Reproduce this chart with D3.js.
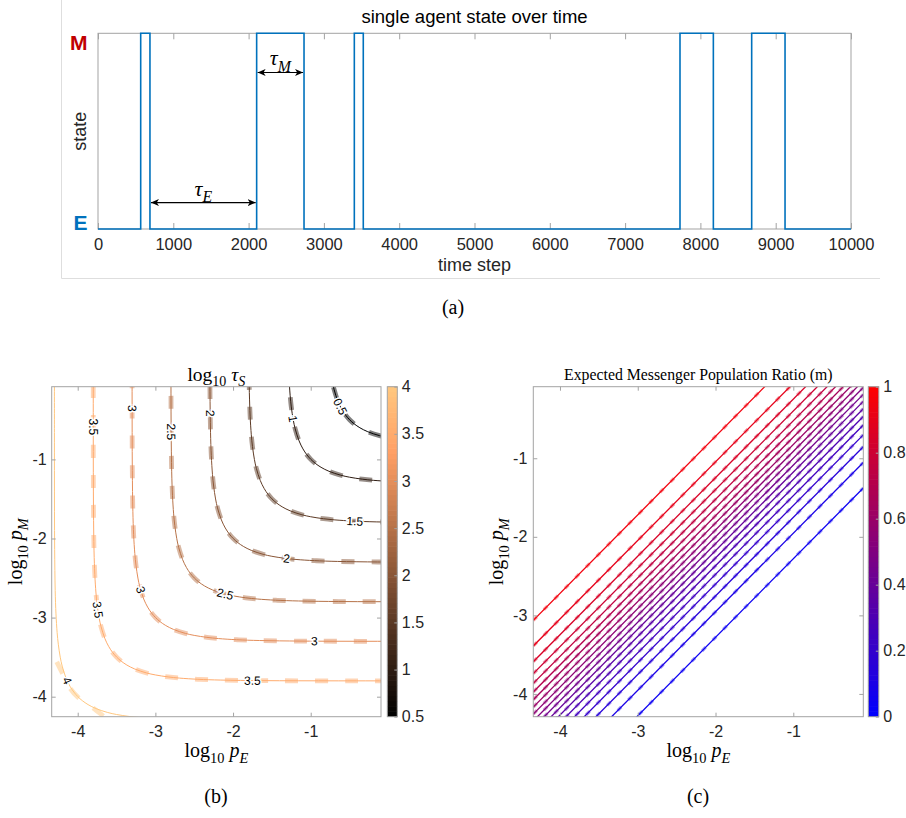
<!DOCTYPE html>
<html><head><meta charset="utf-8">
<script src="https://cdn.jsdelivr.net/npm/d3@7"></script>
<style>
body{margin:0;background:#fff}
svg{display:block}
</style></head><body>
<svg id="fig" width="906" height="818"></svg>
<script>
// ---------- (a) single agent trajectory ----------
const stateTimes  = [0, 567, 690, 2107, 2736, 3404, 3523, 7729, 8172, 8681, 9124, 10000];
const stateValues = [0, 1, 0, 1, 0, 1, 0, 1, 0, 1, 0, 0];   // 0 = E, 1 = M
const timeTicks   = [0, 1000, 2000, 3000, 4000, 5000, 6000, 7000, 8000, 9000, 10000];
const stateNames  = ["E", "M"];
const tauEInterval = [690, 2107];
const tauMInterval = [2107, 2736];
const tauEArrowLevel = 0.135;
const tauMArrowLevel = 0.80;

// ---------- (b) contours of log10 tau_S ----------
const tauLevels     = [0.5, 1, 1.5, 2, 2.5, 3, 3.5, 4];
const tauAsymptotes = [-0.80, -1.30, -1.80, -2.30, -2.80, -3.30, -3.80, -4.30];
// shape of one contour: offsets from its asymptote (along log pE, along log pM)
const profileD = [0.00001, 0.0001, 0.0003, 0.001, 0.003, 0.01, 0.02, 0.035, 0.05, 0.075, 0.1, 0.15, 0.2, 0.25, 0.301,
                  0.3589, 0.4329, 0.5345, 0.6868, 0.7997, 0.9636, 1.1111, 1.3467, 1.643, 2.162, 2.638, 3.161, 3.638, 4.5];
const profileG = [4.5, 3.638, 3.161, 2.638, 2.162, 1.643, 1.3467, 1.1111, 0.9636, 0.7997, 0.6868, 0.5345, 0.4329, 0.3589, 0.301,
                  0.25, 0.2, 0.15, 0.1, 0.075, 0.05, 0.035, 0.02, 0.01, 0.003, 0.001, 0.0003, 0.0001, 0.00001];
// simulated level-4 contour (the others coincide with the analytic curves)
const simLevel4 = [[-4.27, -3.56], [-4.185, -3.725], [-4.10, -3.89], [-4.0, -4.005], [-3.80, -4.144], [-3.65, -4.26]];
const tauLabelSpots = [
  [0.5, -0.623, -0.335], [1, -1.237, -0.491], [1.5, -0.430, -1.789],
  [2, -2.31, -0.419], [2, -1.309, -2.26],
  [2.5, -2.812, -0.651], [2.5, -2.104, -2.715],
  [3, -3.305, -0.356], [3, -3.198, -2.652], [3, -0.954, -3.305],
  [3.5, -3.79, -0.588], [3.5, -3.755, -2.905], [3.5, -1.747, -3.81],
  [4, -4.164, -3.81]
];
const tauTicks = [0.5, 1, 1.5, 2, 2.5, 3, 3.5, 4];
const logTicks = [-4, -3, -2, -1];

// ---------- (c) expected messenger population ratio ----------
const ratioLevels  = [0.05, 0.10, 0.15, 0.20, 0.25, 0.30, 0.35, 0.40, 0.45, 0.50,
                      0.55, 0.60, 0.65, 0.70, 0.75, 0.80, 0.85, 0.90, 0.95];
const ratioOffsets = [-1.279, -0.954, -0.753, -0.602, -0.477, -0.368, -0.269, -0.176, -0.087, 0,
                      0.087, 0.176, 0.269, 0.368, 0.477, 0.602, 0.753, 0.954, 1.279];
const ratioTicks = [0, 0.2, 0.4, 0.6, 0.8, 1];

// ---------- drawing ----------
const svg = d3.select("#fig");
const sans = "'Liberation Sans', Arial, Helvetica, sans-serif";
const serif = "'Liberation Serif', 'Times New Roman', serif";
const ink = "#262626";
const boxCol = "#a3a3a3";
const copper = t => d3.rgb(255 * Math.min(1, 1.25 * t), 255 * 0.7812 * t, 255 * 0.4975 * t);
const redBlue = t => d3.rgb(255 * t, 0, 255 * (1 - t));

const defs = svg.append("defs");
defs.append("marker").attr("id", "arrowHead")
  .attr("markerUnits", "userSpaceOnUse").attr("markerWidth", 9).attr("markerHeight", 7)
  .attr("refX", 8).attr("refY", 3.5).attr("orient", "auto-start-reverse")
  .append("path").attr("d", "M0,0 L8,3.5 L0,7 L2.2,3.5 Z").attr("fill", "#000");

function styleAxis(sel, size) {
  sel.attr("font-family", sans).attr("font-size", size);
  sel.select(".domain").remove();
  sel.selectAll(".tick line").attr("stroke", boxCol);
  sel.selectAll(".tick text").attr("fill", ink);
}

function mathText(g, x, y, parts, size, rotate) {
  const t = g.append("text").attr("x", x).attr("y", y).attr("text-anchor", "middle")
    .attr("font-family", serif).attr("fill", "#000").attr("font-size", size);
  if (rotate) t.attr("transform", `rotate(${rotate},${x},${y})`);
  let shifted = 0;
  parts.forEach(p => {
    const ts = t.append("tspan").text(p.t);
    const target = p.sub ? size * 0.28 : 0;
    if (target !== shifted) { ts.attr("dy", target - shifted); shifted = target; }
    if (p.sub) ts.attr("font-size", size * 0.72);
    if (p.it) ts.attr("font-style", "italic");
  });
  return t;
}

// ===== panel (a) =====
const A = {l: 98, r: 851, t: 33.3, b: 229};
const xA = d3.scaleLinear().domain([0, 10000]).range([A.l, A.r]);
const yA = d3.scaleLinear().domain([0, 1]).range([A.b, A.t]);
const gA = svg.append("g");
gA.append("path").attr("d", "M61.5,0V278.5H880").attr("fill", "none").attr("stroke", "#dedede");
gA.append("rect").attr("x", A.l).attr("y", A.t).attr("width", A.r - A.l).attr("height", A.b - A.t)
  .attr("fill", "none").attr("stroke", boxCol);
gA.append("g").attr("transform", `translate(0,${A.b})`)
  .call(d3.axisBottom(xA).tickValues(timeTicks).tickSize(-6).tickPadding(9.5).tickFormat(d => String(d)))
  .call(s => styleAxis(s, 16.5));
gA.append("g").attr("transform", `translate(0,${A.t})`)
  .call(d3.axisTop(xA).tickValues(timeTicks).tickSize(-6).tickFormat(""))
  .call(s => styleAxis(s, 16.5));

const stateLine = d3.line().curve(d3.curveStepAfter).x(d => xA(d[0])).y(d => yA(d[1]));
gA.append("path").datum(stateTimes.map((t, i) => [t, stateValues[i]]))
  .attr("d", stateLine).attr("fill", "none").attr("stroke", "#0072BD").attr("stroke-width", 1.6);

gA.append("text").attr("x", (A.l + A.r) / 2).attr("y", 22.5).attr("text-anchor", "middle")
  .attr("font-family", sans).attr("font-size", 18.5).attr("fill", "#000").text("single agent state over time");
gA.append("text").attr("x", (A.l + A.r) / 2).attr("y", 271).attr("text-anchor", "middle")
  .attr("font-family", sans).attr("font-size", 18).attr("fill", ink).text("time step");
gA.append("text").attr("transform", `translate(86,${(A.t + A.b) / 2}) rotate(-90)`).attr("text-anchor", "middle")
  .attr("font-family", sans).attr("font-size", 18).attr("fill", ink).text("state");
gA.append("text").attr("x", 87.5).attr("y", yA(1) + 16.5).attr("text-anchor", "end")
  .attr("font-family", sans).attr("font-weight", "bold").attr("font-size", 21).attr("fill", "#c00000").text(stateNames[1]);
gA.append("text").attr("x", 87.5).attr("y", yA(0) + 1).attr("text-anchor", "end")
  .attr("font-family", sans).attr("font-weight", "bold").attr("font-size", 21).attr("fill", "#0072BD").text(stateNames[0]);

function dwellArrow(interval, level, sub) {
  const y = yA(level);
  gA.append("line").attr("x1", xA(interval[0]) + 1).attr("x2", xA(interval[1]) - 1)
    .attr("y1", y).attr("y2", y).attr("stroke", "#000").attr("stroke-width", 1.1)
    .attr("marker-start", "url(#arrowHead)").attr("marker-end", "url(#arrowHead)");
  mathText(gA, xA((interval[0] + interval[1]) / 2), y - 7, [{t: "τ", it: true}, {t: sub, it: true, sub: true}], 22);
}
dwellArrow(tauEInterval, tauEArrowLevel, "E");
dwellArrow(tauMInterval, tauMArrowLevel, "M");

svg.append("text").attr("x", 453).attr("y", 314).attr("text-anchor", "middle")
  .attr("font-family", serif).attr("font-size", 20).attr("fill", "#000").text("(a)");

// ===== shared helpers for (b) and (c) =====
function axesFrame(g, box, xs, ys, yPad) {
  g.append("rect").attr("x", box.l).attr("y", box.t).attr("width", box.r - box.l).attr("height", box.b - box.t)
    .attr("fill", "none").attr("stroke", boxCol);
  g.append("g").attr("transform", `translate(0,${box.b})`)
    .call(d3.axisBottom(xs).tickValues(logTicks).tickSize(-4).tickPadding(8.6).tickFormat(d => String(d)))
    .call(s => styleAxis(s, 16));
  g.append("g").attr("transform", `translate(0,${box.t})`)
    .call(d3.axisTop(xs).tickValues(logTicks).tickSize(-4).tickFormat(""))
    .call(s => styleAxis(s, 16));
  g.append("g").attr("transform", `translate(${box.l},0)`)
    .call(d3.axisLeft(ys).tickValues(logTicks).tickSize(-4).tickPadding(yPad).tickFormat(d => String(d)))
    .call(s => styleAxis(s, 16));
  g.append("g").attr("transform", `translate(${box.r},0)`)
    .call(d3.axisRight(ys).tickValues(logTicks).tickSize(-4).tickFormat(""))
    .call(s => styleAxis(s, 16));
}

function colorbar(g, x0, x1, box, domain, ticks, cmap, fmt) {
  const cs = d3.scaleLinear().domain(domain).range([box.b, box.t]);
  const n = 64;
  const steps = d3.range(n);
  const band = d3.scaleBand().domain(steps).range([box.b, box.t]);
  g.selectAll(null).data(steps).enter().append("rect")
    .attr("x", x0).attr("width", x1 - x0)
    .attr("y", i => band(i) - 0.3).attr("height", band.bandwidth() + 0.6)
    .attr("fill", i => cmap((i + 0.5) / n));
  g.append("rect").attr("x", x0).attr("y", box.t).attr("width", x1 - x0).attr("height", box.b - box.t)
    .attr("fill", "none").attr("stroke", boxCol);
  g.append("g").attr("transform", `translate(${x1},0)`)
    .call(d3.axisRight(cs).tickValues(ticks).tickSize(-3).tickPadding(4.5).tickFormat(fmt))
    .call(s => styleAxis(s, 16));
}

function axisTitles(g, box, yLabelX) {
  const cx = (box.l + box.r) / 2, cy = (box.t + box.b) / 2;
  mathText(g, cx, 757, [{t: "log"}, {t: "10", sub: true}, {t: " "}, {t: "p", it: true}, {t: "E", it: true, sub: true}], 20);
  mathText(g, yLabelX, cy, [{t: "log"}, {t: "10", sub: true}, {t: " "}, {t: "p", it: true}, {t: "M", it: true, sub: true}], 20, -90);
}

// ===== panel (b) =====
const B = {l: 51.7, r: 381, t: 386.7, b: 716.7};
const xB = d3.scaleLinear().domain([-4.335, -0.095]).range([B.l, B.r]);
const yB = d3.scaleLinear().domain([-4.253, -0.081]).range([B.b, B.t]);
const gB = svg.append("g");
defs.append("clipPath").attr("id", "clipB").append("rect")
  .attr("x", B.l).attr("y", B.t).attr("width", B.r - B.l).attr("height", B.b - B.t);

const tauColor = L => copper((L - tauTicks[0]) / (tauTicks[tauTicks.length - 1] - tauTicks[0]));
const contourLine = d3.line().curve(d3.curveCatmullRom.alpha(0.5)).x(d => xB(d[0])).y(d => yB(d[1]));
const curveOf = a => profileD.map((d, i) => [a + d, a + profileG[i]]);

const plotB = gB.append("g").attr("clip-path", "url(#clipB)");
const thinPaths = {};
tauLevels.forEach((L, i) => {
  thinPaths[L] = plotB.append("path").datum(curveOf(tauAsymptotes[i])).attr("d", contourLine)
    .attr("fill", "none").attr("stroke", tauColor(L)).attr("stroke-width", 1);
});
tauLevels.forEach((L, i) => {
  const pts = L === 4 ? simLevel4 : curveOf(tauAsymptotes[i]);
  plotB.append("path").datum(pts).attr("d", contourLine)
    .attr("fill", "none").attr("stroke", tauColor(L)).attr("stroke-width", 4.8)
    .attr("stroke-opacity", 0.5).attr("stroke-dasharray", "13,17");
});

// inline contour labels, aligned with the local direction of their curve
tauLabelSpots.forEach(([L, lx, ly]) => {
  const node = thinPaths[L].node();
  const total = node.getTotalLength();
  const px = xB(lx), py = yB(ly);
  let best = 0, bestD = Infinity;
  for (let s = 0; s <= total; s += 0.5) {
    const p = node.getPointAtLength(s);
    const dd = (p.x - px) ** 2 + (p.y - py) ** 2;
    if (dd < bestD) { bestD = dd; best = s; }
  }
  const p = node.getPointAtLength(best);
  const p0 = node.getPointAtLength(Math.max(0, best - 4));
  const p1 = node.getPointAtLength(Math.min(total, best + 4));
  let ang = Math.atan2(p1.y - p0.y, p1.x - p0.x) * 180 / Math.PI;
  while (ang > 90) ang -= 180;
  while (ang <= -90) ang += 180;
  gB.append("text").attr("transform", `translate(${p.x},${p.y}) rotate(${ang})`)
    .attr("text-anchor", "middle").attr("dy", "0.35em")
    .attr("font-family", sans).attr("font-size", 12).attr("fill", "#000")
    .attr("stroke", "#fff").attr("stroke-width", 3).attr("paint-order", "stroke")
    .text(String(L));
});

axesFrame(gB, B, xB, yB, 5);
colorbar(gB, 387.3, 397.3, B, [tauTicks[0], tauTicks[tauTicks.length - 1]], tauTicks, copper, d => String(d));
mathText(gB, (B.l + B.r) / 2, 380.5, [{t: "log"}, {t: "10", sub: true}, {t: " "}, {t: "τ", it: true}, {t: "S", it: true, sub: true}], 19.5);
axisTitles(gB, B, 22);
svg.append("text").attr("x", 216).attr("y", 803).attr("text-anchor", "middle")
  .attr("font-family", serif).attr("font-size", 20).attr("fill", "#000").text("(b)");

// ===== panel (c) =====
const C = {l: 533.3, r: 863.3, t: 386.7, b: 716.7};
const xC = d3.scaleLinear().domain([-4.343, -0.1]).range([C.l, C.r]);
const yC = d3.scaleLinear().domain([-4.29, -0.089]).range([C.b, C.t]);
const gC = svg.append("g");
defs.append("clipPath").attr("id", "clipC").append("rect")
  .attr("x", C.l).attr("y", C.t).attr("width", C.r - C.l).attr("height", C.b - C.t);
const plotC = gC.append("g").attr("clip-path", "url(#clipC)");
const ratioLine = d3.line().x(d => xC(d[0])).y(d => yC(d[1]));
const [xc0, xc1] = xC.domain();
ratioLevels.forEach((m, i) => {
  const pts = [[xc0, xc0 + ratioOffsets[i]], [xc1, xc1 + ratioOffsets[i]]];
  plotC.append("path").datum(pts).attr("d", ratioLine).attr("fill", "none")
    .attr("stroke", redBlue(m)).attr("stroke-width", 1.3);
  plotC.append("path").datum(pts).attr("d", ratioLine).attr("fill", "none")
    .attr("stroke", redBlue(m)).attr("stroke-width", 3.2).attr("stroke-opacity", 0.4)
    .attr("stroke-dasharray", "5,10");
});
axesFrame(gC, C, xC, yC, 6);
colorbar(gC, 868.3, 878.8, C, [0, 1], ratioTicks, redBlue, d => String(d));
gC.append("text").attr("x", (C.l + C.r) / 2).attr("y", 380).attr("text-anchor", "middle")
  .attr("font-family", serif).attr("font-size", 15.8).attr("fill", "#000")
  .text("Expected Messenger Population Ratio (m)");
axisTitles(gC, C, 503);
svg.append("text").attr("x", 698).attr("y", 803).attr("text-anchor", "middle")
  .attr("font-family", serif).attr("font-size", 20).attr("fill", "#000").text("(c)");
</script>
</body></html>
